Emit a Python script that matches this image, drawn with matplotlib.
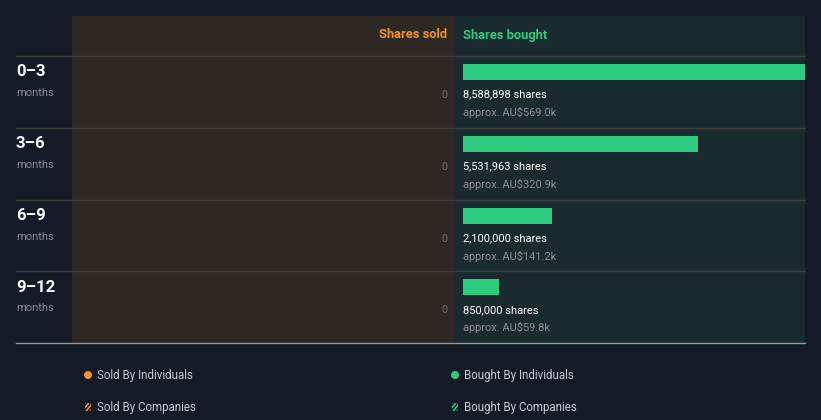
import matplotlib
matplotlib.use("Agg")
import matplotlib.pyplot as plt
from matplotlib.patches import Rectangle, Circle, FancyBboxPatch

plt.rcParams['font.family'] = ['Roboto', 'DejaVu Sans']

periods = ["0–3", "3–6", "6–9", "9–12"]
sold_values = [0, 0, 0, 0]
bought_values = [8588898, 5531963, 2100000, 850000]
bought_value_aud = ["AU$569.0k", "AU$320.9k", "AU$141.2k", "AU$59.8k"]
legend_labels = ["Sold By Individuals", "Bought By Individuals", "Sold By Companies", "Bought By Companies"]

BG = "#151b26"
SOLD_BG = "#2d2823"
BOUGHT_BG = "#192b2e"
ORANGE = "#f39420"
GREEN = "#2ecc80"
GRID = "#3c3d3d"

W, H = 821, 420
fig = plt.figure(figsize=(W / 100, H / 100), dpi=100, facecolor=BG)

bg = fig.add_axes([0, 0, 1, 1])
bg.set_xlim(0, W)
bg.set_ylim(H, 0)
bg.axis("off")
bg.set_facecolor(BG)

top, row0, bottom = 16, 56, 343
xl, xm, xr = 72, 455, 805
row_h = (bottom - row0) / len(periods)

bg.add_patch(Rectangle((xl, top), xm - xl, bottom - top, color=SOLD_BG, lw=0, zorder=0))
bg.add_patch(Rectangle((xm, top), xr - xm, bottom - top, color=BOUGHT_BG, lw=0, zorder=0))

bg.text(447, 35, "Shares sold", color=ORANGE, fontsize=9.3, fontweight="bold", ha="right", va="center")
bg.text(463, 35, "Shares bought", color=GREEN, fontsize=9.3, fontweight="bold", ha="left", va="center")

for i, p in enumerate(periods):
    y0 = row0 + i * row_h
    bg.plot([16, xr], [y0, y0], color=GRID, lw=1, zorder=1)
    bg.text(16, y0 + 16, p, color="white", fontsize=12, fontweight="bold", ha="left", va="center")
    bg.text(16, y0 + 37, "months", color="#8c8f94", fontsize=8, ha="left", va="center")
    bg.text(447, y0 + 39, f"{sold_values[i]:,}", color="#6e6e6e", fontsize=7.7, ha="right", va="center")
    bg.text(463, y0 + 38.5, f"{bought_values[i]:,} shares", color="white", fontsize=7.9, ha="left", va="center")
    bg.text(463, y0 + 56.5, f"approx. {bought_value_aud[i]}", color="#8c8f94", fontsize=7.9, ha="left", va="center")
bg.plot([16, xr], [bottom, bottom], color="#8e9aa0", lw=1, zorder=1)

bx0, bx1 = 463, 805
bax = fig.add_axes([bx0 / W, 1 - bottom / H, (bx1 - bx0) / W, (bottom - row0) / H])
bax.set_xlim(0, 8.05e6)
bax.set_ylim(len(periods), 0)
bax.axis("off")
bar_off = 8 / row_h
bar_h = 16 / row_h
bax.barh([i + bar_off + bar_h / 2 for i in range(len(periods))], bought_values,
         height=bar_h, color=GREEN, lw=0)

leg = [(88, 375, ORANGE, False), (455, 375, GREEN, False), (88, 407, ORANGE, True), (455, 407, GREEN, True)]
for (x, y, c, hatched), lab in zip(leg, legend_labels):
    if hatched:
        r = FancyBboxPatch((x - 3, y - 4), 6, 8, boxstyle="round,pad=0,rounding_size=1.5",
                           facecolor=c, lw=0, zorder=3)
        bg.add_patch(r)
        for k in (-3.5, 0.5, 4.5):
            ln, = bg.plot([x - 5 + k, x + 3 + k], [y + 5, y - 5], color=BG, lw=1.1, zorder=4)
            ln.set_clip_path(r)
    else:
        bg.add_patch(Circle((x, y), 4, color=c, lw=0))
    bg.text(x + 9, y, lab, color="#c9ccd1", fontsize=8.3, ha="left", va="center")

fig.savefig("out.png", dpi=100, facecolor=BG)
